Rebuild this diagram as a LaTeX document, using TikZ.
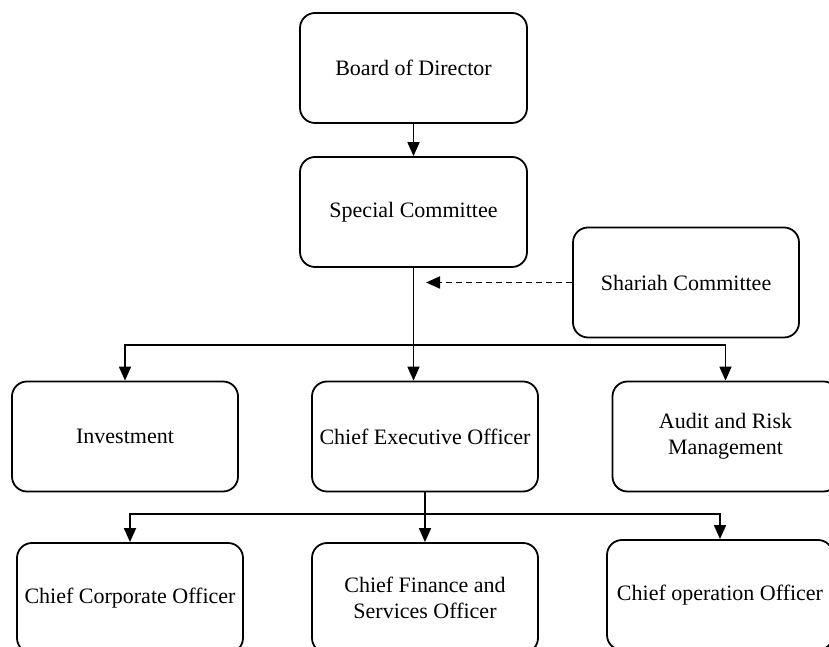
\documentclass[tikz,border=0pt]{standalone}
\usepackage{fontspec}
\setmainfont{Liberation Serif}
\usetikzlibrary{arrows.meta}

\tikzset{
	orgbox/.style={draw, line width=1.8pt, rounded corners=15pt, minimum width=226pt, minimum height=110pt, align=center, inner sep=2pt, font=\fontsize{22}{26}\selectfont},
	orgline/.style={line width=1.8pt},
	orgarrow/.style={line width=1.8pt, -{Triangle[length=14pt,width=12pt]}},
}

\begin{document}
\begin{tikzpicture}[x=1pt,y=1pt]
		
		% Keret
		\useasboundingbox (0,0) rectangle (829,647);
		\clip (0,0) rectangle (829,647);
		
		% Felső szint
		\node[orgbox, minimum width=227pt] (board) at (413.5,579) {Board of Director}; % igazgatóság
		\node[orgbox, minimum width=227pt] (special) at (413.5,435) {Special Committee}; % bizottság
		\node[orgbox] (shariah) at (686,364.5) {Shariah Committee}; % saría
		
		% Középső szint
		\node[orgbox] (invest) at (125,210.5) {Investment};
		\node[orgbox] (ceo) at (425,210.5) {Chief Executive Officer};
		\node[orgbox] (audit) at (725.5,210.5) {Audit and Risk\\Management};
		
		% Alsó szint
		\node[orgbox] (cco) at (130,49) {Chief Corporate Officer};
		\node[orgbox] (cfo) at (425,49) {Chief Finance and\\Services Officer};
		\node[orgbox] (coo) at (720,52) {Chief operation Officer};
		
		% Elágazási pontok
		\coordinate (split1) at (413.5,302);
		\coordinate (split2) at (425,133);
		\coordinate (sharend) at (426,364.5);
		
		% Nyilak felül
		\draw [orgarrow] (board) -- (special);
		\draw [orgline] (special.south) -- (split1);
		\draw [orgarrow] (split1) -| (invest.north);
		\draw [orgarrow] (split1) -| (audit.north);
		\draw [orgarrow] (split1) -- (split1 |- ceo.north);
		\draw [orgarrow, dash pattern=on 6pt off 4pt] (shariah.west) -- (sharend); % szaggatott
		
		% Nyilak alul
		\draw [orgline] (ceo.south) -- (split2);
		\draw [orgarrow] (split2) -| (cco.north);
		\draw [orgarrow] (split2) -- (cfo.north);
		\draw [orgarrow] (split2) -| (coo.north);
		
	\end{tikzpicture}
\end{document}
